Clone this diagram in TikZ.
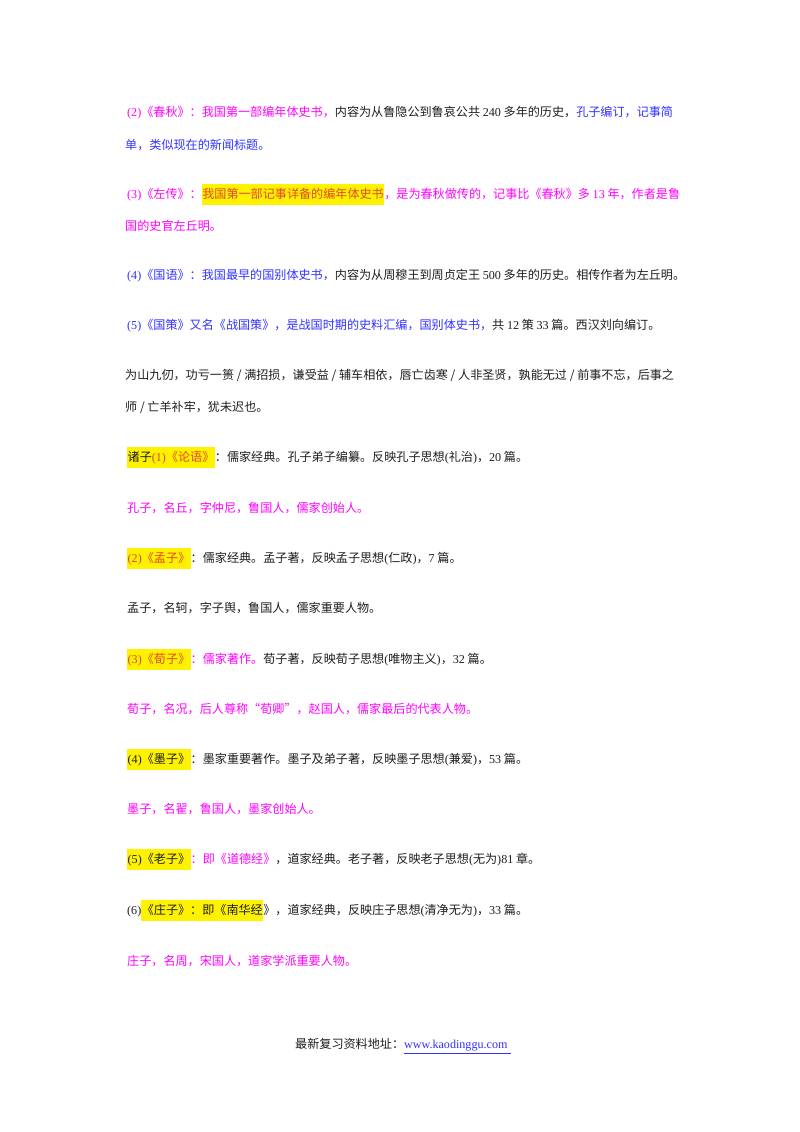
\documentclass[tikz,border=0pt]{standalone}
\usepackage{fontspec}
\setmainfont{Noto Sans CJK SC}
\newfontfamily\lat{Liberation Serif}
\definecolor{mg}{RGB}{255,0,255}
\definecolor{bl}{RGB}{50,50,255}
\definecolor{tx}{RGB}{30,30,30}
\definecolor{hr}{RGB}{225,70,40}
\newcommand\hlt[1]{{\setlength\fboxsep{0.5pt}\colorbox{yellow}{\rule[-6pt]{0pt}{20pt}#1}}}
\newcommand\Lt[1]{{\lat #1}}
\begin{document}
\begin{tikzpicture}[x=1pt,y=-1pt,
  ln/.style={anchor=west,inner sep=0pt,text=tx,font=\fontsize{12.1}{14}\selectfont}]
\useasboundingbox[fill=white] (0,0) rectangle (800,1132);
\node[ln] (l1) at (127,113) {\textcolor{mg}{\Lt{(2)}《春秋》：我国第一部编年体史书，}内容为从鲁隐公到鲁哀公共 \Lt{240} 多年的历史，\textcolor{bl}{孔子编订，记事简}};
\node[ln] (l2) at (125,145) {\textcolor{bl}{单，类似现在的新闻标题。}};
\node[ln] (l3) at (127,194) {\textcolor{mg}{\Lt{(3)}《左传》：}\hlt{\textcolor{hr}{我国第一部记事详备的编年体史书}}\textcolor{mg}{，是为春秋做传的，记事比《春秋》多 \Lt{13} 年，作者是鲁}};
\node[ln] (l4) at (125,226) {\textcolor{mg}{国的史官左丘明。}};
\node[ln] (l5) at (127,276) {\textcolor{bl}{\Lt{(4)}《国语》：我国最早的国别体史书，}内容为从周穆王到周贞定王 \Lt{500} 多年的历史。相传作者为左丘明。};
\node[ln] (l6) at (127,326) {\textcolor{bl}{\Lt{(5)}《国策》又名《战国策》，是战国时期的史料汇编，国别体史书，}共 \Lt{12} 策 \Lt{33} 篇。西汉刘向编订。};
\node[ln] (l7) at (125,375) {为山九仞，功亏一篑 / 满招损，谦受益 / 辅车相依，唇亡齿寒 / 人非圣贤，孰能无过 / 前事不忘，后事之};
\node[ln] (l8) at (125,407) {师 / 亡羊补牢，犹未迟也。};
\node[ln] (l9) at (127,457) {\hlt{诸子\textcolor{hr}{\Lt{(1)}《论语》}}：儒家经典。孔子弟子编纂。反映孔子思想\Lt{(}礼治\Lt{)}，\Lt{20} 篇。};
\node[ln] (l10) at (127,508) {\textcolor{mg}{孔子，名丘，字仲尼，鲁国人，儒家创始人。}};
\node[ln] (l11) at (127,558) {\hlt{\textcolor{hr}{\Lt{(2)}《孟子》}}：儒家经典。孟子著，反映孟子思想\Lt{(}仁政\Lt{)}，\Lt{7} 篇。};
\node[ln] (l12) at (127,608) {孟子，名轲，字子舆，鲁国人，儒家重要人物。};
\node[ln] (l13) at (127,659) {\hlt{\textcolor{hr}{\Lt{(3)}《荀子》}}\textcolor{mg}{：儒家著作。}荀子著，反映荀子思想\Lt{(}唯物主义\Lt{)}，\Lt{32} 篇。};
\node[ln] (l14) at (127,709) {\textcolor{mg}{荀子，名况，后人尊称“荀卿”，赵国人，儒家最后的代表人物。}};
\node[ln] (l15) at (127,759) {\hlt{\Lt{(4)}《墨子》}：墨家重要著作。墨子及弟子著，反映墨子思想\Lt{(}兼爱\Lt{)}，\Lt{53} 篇。};
\node[ln] (l16) at (127,809) {\textcolor{mg}{墨子，名翟，鲁国人，墨家创始人。}};
\node[ln] (l17) at (127,859) {\hlt{\Lt{(5)}《老子》}\textcolor{mg}{：即《道德经》}，道家经典。老子著，反映老子思想\Lt{(}无为\Lt{)81} 章。};
\node[ln] (l18) at (127,910) {\Lt{(6)}\hlt{《庄子》：即《南华经}》，道家经典，反映庄子思想\Lt{(}清净无为\Lt{)}，\Lt{33} 篇。};
\node[ln] (l19) at (127,961) {\textcolor{mg}{庄子，名周，宋国人，道家学派重要人物。}};
\node[ln] (ft) at (295,1046) {最新复习资料地址：\textcolor{bl}{\underline{\Lt{www.kaodinggu.com\ }}}};
\end{tikzpicture}
\end{document}
